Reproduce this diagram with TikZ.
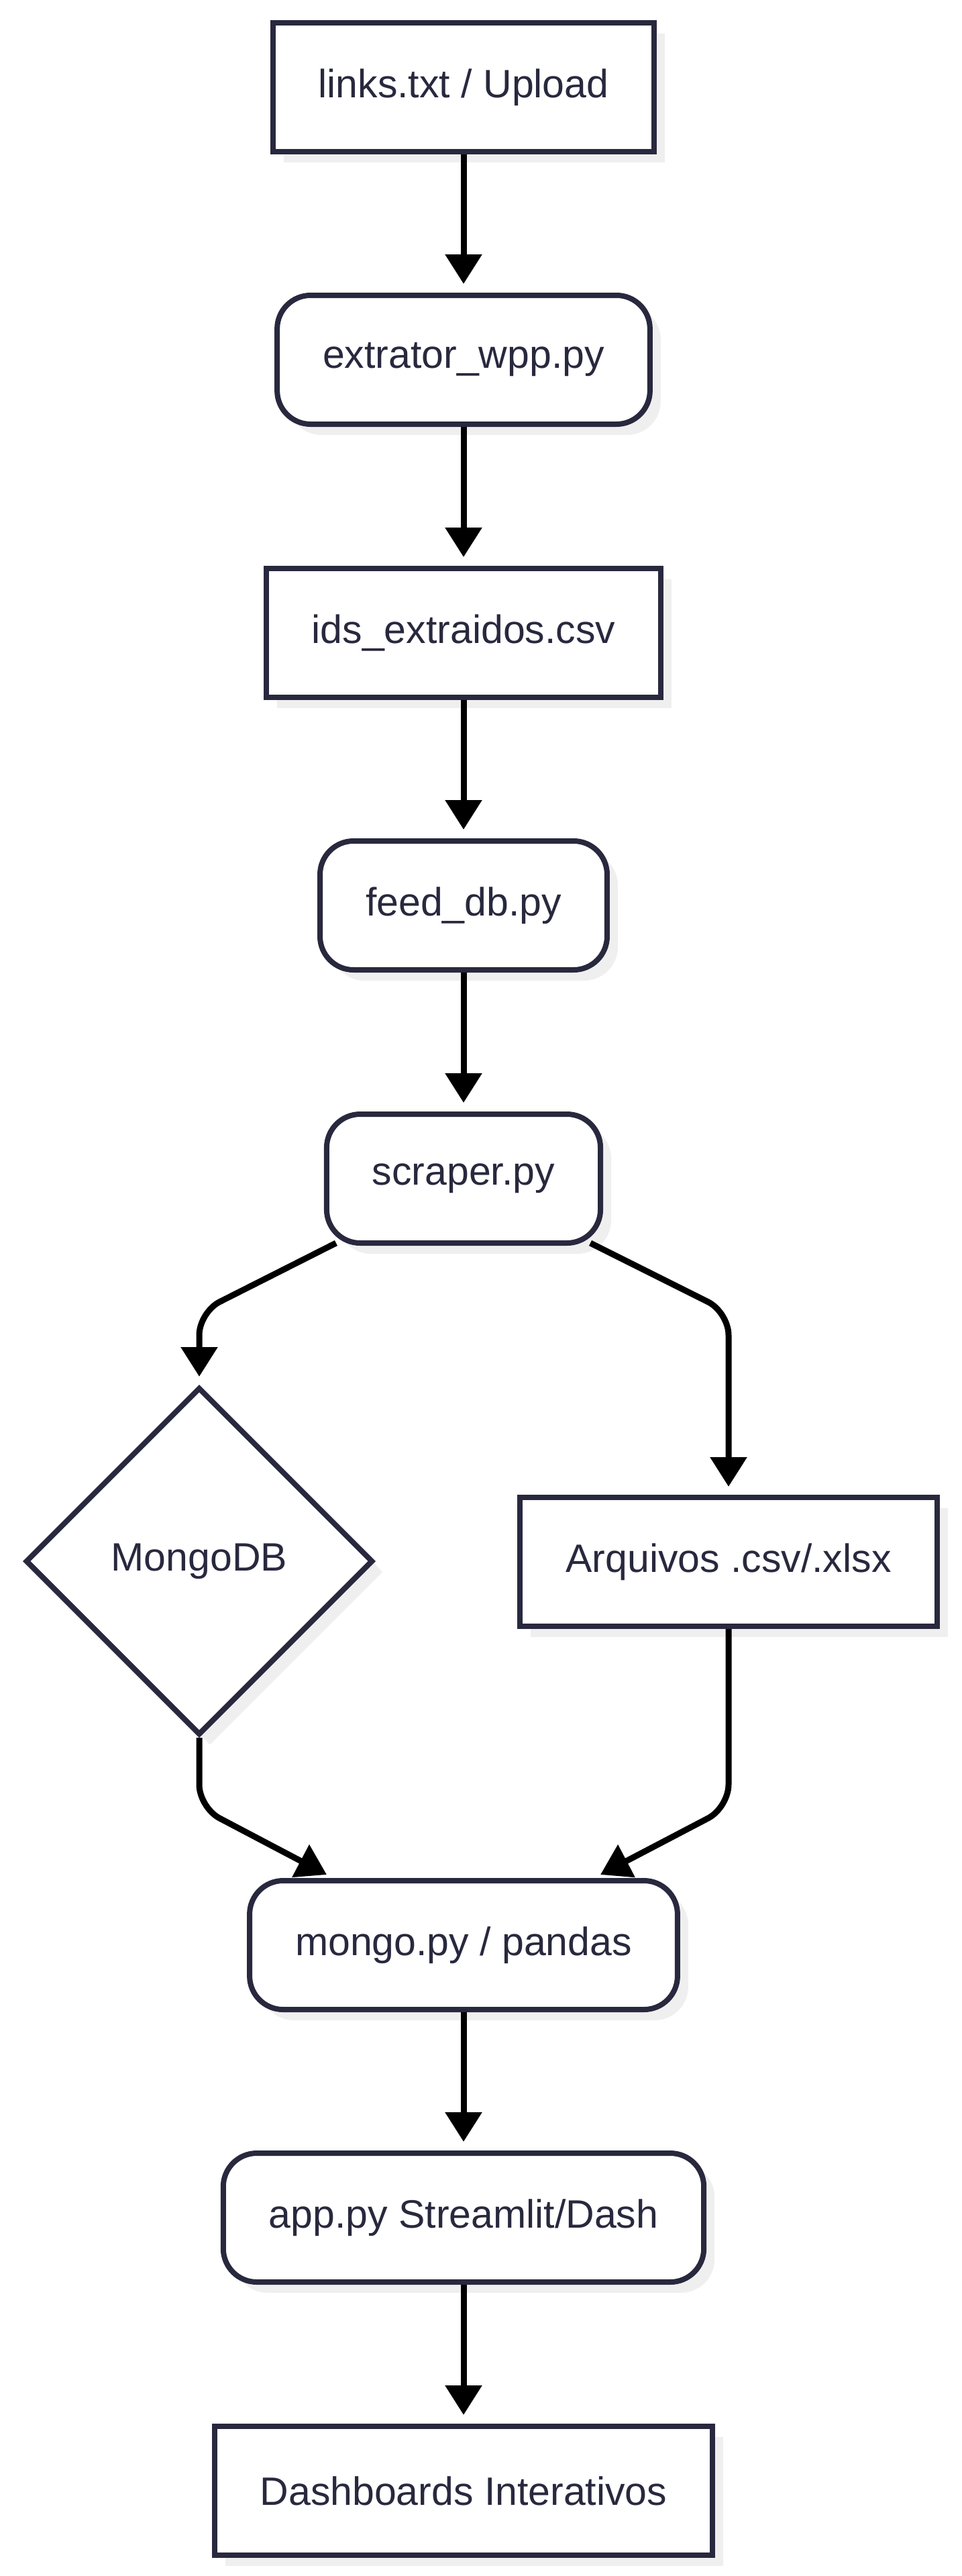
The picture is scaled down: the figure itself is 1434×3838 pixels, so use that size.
\documentclass[tikz,border=0pt]{standalone}
\usepackage{fontspec}
\setmainfont{Liberation Sans}
\usetikzlibrary{arrows.meta,shapes.geometric,shadows}
\definecolor{ink}{RGB}{40,40,62}
\definecolor{shade}{RGB}{239,239,239}
\tikzset{
  base/.style={draw=ink, line width=4pt, fill=white, text=ink,
    font=\fontsize{29.5}{35}\selectfont, inner xsep=34pt, minimum height=96pt,
    drop shadow={shadow xshift=8pt, shadow yshift=-8pt, fill=shade, opacity=1}},
  filebox/.style={base},
  procbox/.style={base, rounded corners=25pt},
  dbbox/.style={base, diamond, aspect=1, minimum width=259pt, minimum height=259pt, inner sep=0pt},
  flow/.style={draw=black, line width=4.5pt, rounded corners=17pt,
    -{Triangle[length=22pt,width=26.5pt]}},
}
\begin{document}
\begin{tikzpicture}[x=0.5pt,y=-0.5pt]
\useasboundingbox (0,0) rectangle (1434,3838);
\node[filebox] (links) at (691,130) {links.txt / Upload};
\node[procbox] (extrator) at (691,536) {extrator\_wpp.py};
\node[filebox] (ids) at (691,943) {ids\_extraidos.csv};
\node[procbox] (feed) at (691,1349) {feed\_db.py};
\node[procbox] (scraper) at (691,1756) {scraper.py};
\node[dbbox] (mongodb) at (297,2326) {MongoDB};
\node[filebox] (arquivos) at (1086,2327) {Arquivos .csv/.xlsx};
\node[procbox] (mongo) at (691,2898) {mongo.py / pandas};
\node[procbox] (app) at (691,3304) {app.py Streamlit/Dash};
\node[filebox] (dash) at (691,3711) {Dashboards Interativos};

\coordinate (forkL) at (297,1955);
\coordinate (forkR) at (1086,1955);
\coordinate (joinL) at (297,2693);
\coordinate (joinR) at (1086,2693);

\foreach \a/\b in {links/extrator, extrator/ids, ids/feed, feed/scraper, mongo/app, app/dash}
  \draw[flow, shorten >=6.5pt] (\a.south) -- (\b.north);
\draw[flow, shorten >=6pt] ([xshift=9pt,yshift=2pt]scraper.south west) -- (forkL) -- (mongodb.north);
\draw[flow, shorten >=6pt] ([xshift=-9.5pt,yshift=2pt]scraper.south east) -- (forkR) -- (arquivos.north);
\draw[flow] (mongodb.south) -- (joinL) -- ([xshift=-102pt,yshift=2.5pt]mongo.north);
\draw[flow] (arquivos.south) -- (joinR) -- ([xshift=102pt,yshift=2.5pt]mongo.north);
\end{tikzpicture}
\end{document}
